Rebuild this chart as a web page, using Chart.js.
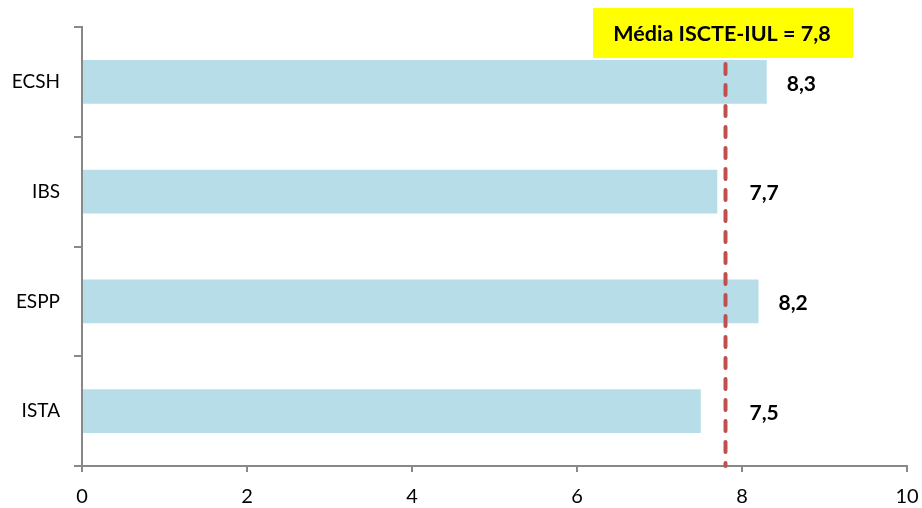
<!DOCTYPE html>
<html>
<head>
<meta charset="utf-8">
<script src="https://cdn.jsdelivr.net/npm/chart.js@4"></script>
<style>
    body { margin: 0; background: #fff; }
    #wrap { width: 922px; height: 508px; }
</style>
</head>
<body>
<div id="wrap"><canvas id="chart" width="922" height="508"></canvas></div>
<script>
// Dados do gráfico
const categories = ['ECSH', 'IBS', 'ESPP', 'ISTA'];
const values = [8.3, 7.7, 8.2, 7.5];
const xTicks = [0, 2, 4, 6, 8, 10];
const mediaValue = 7.8;
const mediaLabel = 'Média ISCTE-IUL = 7,8';

const FONT = 'Lato, "Open Sans", sans-serif';

// linha tracejada da média + caixa amarela
const mediaPlugin = {
    id: 'media',
    afterDatasetsDraw(chart) {
        const ctx = chart.ctx;
        const x = chart.scales.x.getPixelForValue(mediaValue);
        const area = chart.chartArea;
        ctx.save();
        ctx.strokeStyle = '#c0504d';
        ctx.lineWidth = 4;
        ctx.lineCap = 'round';
        ctx.setLineDash([10, 11]);
        ctx.beginPath();
        ctx.moveTo(x, 64);
        ctx.lineTo(x, area.bottom);
        ctx.stroke();
        ctx.setLineDash([]);

        // caixa
        ctx.fillStyle = '#ffff00';
        ctx.fillRect(593, 8, 260, 50);
        ctx.fillStyle = '#000';
        ctx.font = 'bold 21.5px ' + FONT;
        ctx.textAlign = 'center';
        ctx.textBaseline = 'middle';
        ctx.fillText(mediaLabel, 722, 34);
        ctx.restore();
    }
};

// rótulos dos valores à direita das barras
const valueLabels = {
    id: 'valueLabels',
    afterDatasetsDraw(chart) {
        const ctx = chart.ctx;
        const meta = chart.getDatasetMeta(0);
        const mx = chart.scales.x.getPixelForValue(mediaValue);
        ctx.save();
        ctx.fillStyle = '#000';
        ctx.font = 'bold 21px ' + FONT;
        ctx.textAlign = 'left';
        ctx.textBaseline = 'middle';
        meta.data.forEach((bar, i) => {
            const lx = Math.max(bar.x + 20, mx + 24);
            ctx.fillText(values[i].toFixed(1).replace('.', ','), lx, bar.y + 2);
        });
        ctx.restore();
    }
};

new Chart(document.getElementById('chart'), {
    type: 'bar',
    data: {
        labels: categories,
        datasets: [{
            data: values,
            backgroundColor: '#b7dde8',
            borderWidth: 0,
            barPercentage: 0.4,
            categoryPercentage: 1
        }]
    },
    options: {
        indexAxis: 'y',
        responsive: false,
        animation: false,
        layout: { padding: { top: 27, right: 15, left: 0, bottom: 0 } },
        plugins: { legend: { display: false }, tooltip: { enabled: false } },
        scales: {
            x: {
                min: 0,
                max: 10,
                afterBuildTicks(scale) { scale.ticks = xTicks.map(v => ({ value: v })); },
                afterFit(scale) {
                    scale.height = 42;
                    scale.paddingLeft = 0;
                    scale.paddingRight = 0;
                },
                border: { display: true, color: '#888', width: 2 },
                grid: { drawOnChartArea: false, drawTicks: true, tickLength: 6, color: '#888', lineWidth: 2 },
                ticks: { color: '#000', padding: 13, font: { family: FONT, size: 20 } }
            },
            y: {
                afterFit(scale) { scale.width = 82; },
                border: { display: true, color: '#888', width: 2 },
                grid: { offset: true, drawOnChartArea: false, drawTicks: true, tickLength: 8, color: '#888', lineWidth: 2 },
                ticks: { color: '#000', padding: 14, font: { family: FONT, size: 19 } }
            }
        }
    },
    plugins: [mediaPlugin, valueLabels]
});
</script>
</body>
</html>
